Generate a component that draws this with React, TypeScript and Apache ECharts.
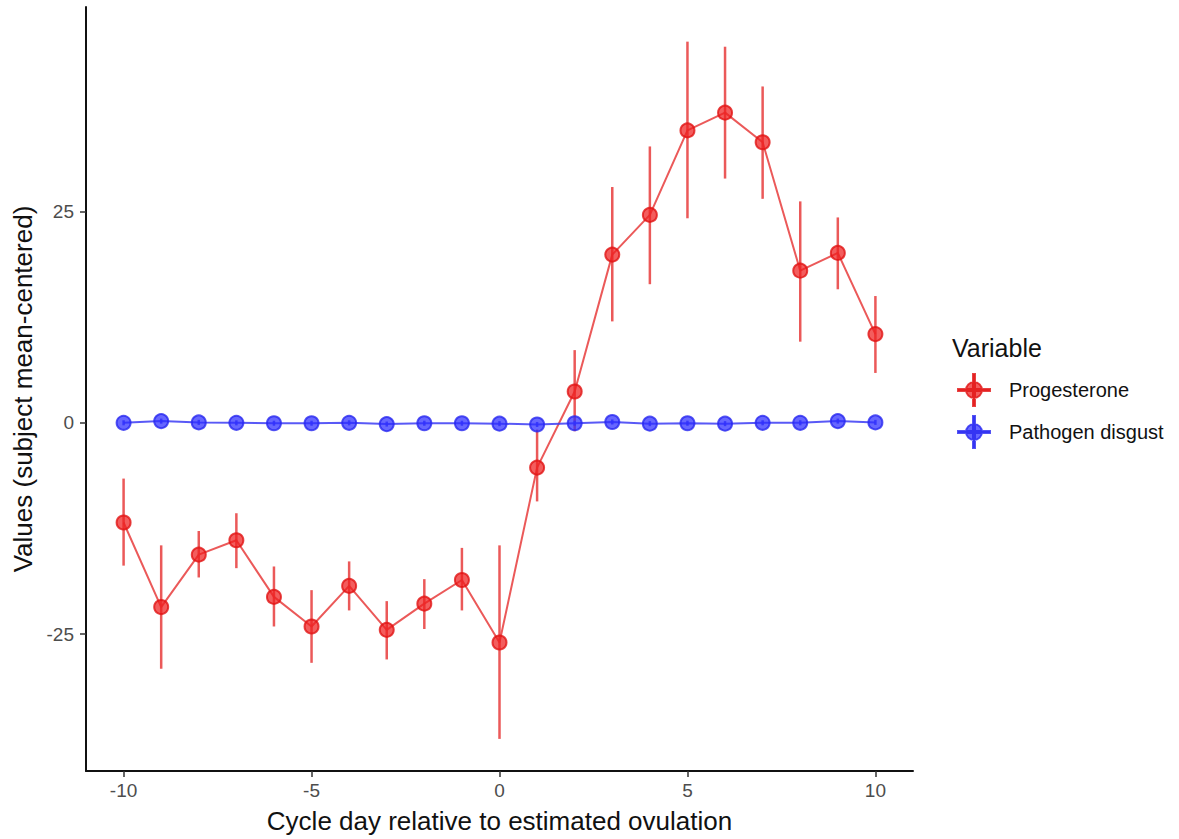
import React, { useEffect, useRef } from "react";
import * as echarts from "echarts";

const days = [-10, -9, -8, -7, -6, -5, -4, -3, -2, -1, 0, 1, 2, 3, 4, 5, 6, 7, 8, 9, 10];
const progesterone = [-11.8, -21.8, -15.6, -13.9, -20.6, -24.1, -19.3, -24.5, -21.4, -18.6, -26.0, -5.3, 3.7, 19.9, 24.6, 34.6, 36.7, 33.2, 18.0, 20.1, 10.5];
const progLow = [-16.9, -29.1, -18.3, -17.2, -24.1, -28.4, -22.2, -28.0, -24.4, -22.2, -37.4, -9.3, -1.0, 12.0, 16.4, 24.2, 28.9, 26.5, 9.6, 15.8, 5.9];
const progHigh = [-6.6, -14.5, -12.8, -10.7, -17.0, -19.8, -16.4, -21.1, -18.5, -14.8, -14.5, -0.8, 8.6, 27.9, 32.7, 45.1, 44.5, 39.8, 26.2, 24.3, 15.0];
const disgust = [0.0, 0.2, 0.05, 0.0, -0.05, -0.05, 0.0, -0.15, -0.05, -0.05, -0.1, -0.2, -0.05, 0.1, -0.1, -0.05, -0.1, 0.0, 0.0, 0.2, 0.05];
const disgustLow = [-0.3, -0.1, -0.25, -0.3, -0.35, -0.35, -0.3, -0.45, -0.35, -0.35, -0.4, -0.5, -0.35, -0.2, -0.4, -0.35, -0.4, -0.3, -0.3, -0.1, -0.25];
const disgustHigh = [0.3, 0.5, 0.35, 0.3, 0.25, 0.25, 0.3, 0.15, 0.25, 0.25, 0.2, 0.1, 0.25, 0.4, 0.2, 0.25, 0.2, 0.3, 0.3, 0.5, 0.35];
const xTicks = [-10, -5, 0, 5, 10];
const yTicks = [-25, 0, 25];

const FONT = "'Liberation Sans', Arial, Helvetica, sans-serif";
const RED = "rgba(238, 30, 30, 0.72)";
const RED_LINE = "rgba(232, 60, 60, 0.85)";
const BLUE = "rgba(45, 45, 255, 0.72)";
const BLUE_LINE = "rgba(60, 60, 245, 0.85)";

const legendIcon =
  "path://M0 15 H32 V17 H0 Z M15 0 H17 V32 H15 Z M24 16 A8 8 0 1 1 8 16 A8 8 0 1 1 24 16 Z";

function errorSeries(name: string, lo: number[], hi: number[], color: string) {
  return {
    type: "custom",
    name,
    data: days.map((d, i) => [d, lo[i], hi[i]]),
    encode: { x: 0, y: [1, 2] },
    renderItem: (_params: any, api: any) => {
      const p1 = api.coord([api.value(0), api.value(1)]);
      const p2 = api.coord([api.value(0), api.value(2)]);
      return {
        type: "line",
        shape: { x1: p1[0], y1: p1[1], x2: p2[0], y2: p2[1] },
        style: { stroke: color, lineWidth: 2.5 },
      };
    },
    silent: true,
    z: 2,
  };
}

export default function App() {
  const ref = useRef<HTMLDivElement>(null);
  useEffect(() => {
    if (!ref.current) return;
    const chart = echarts.init(ref.current, null, { renderer: "svg" });
    chart.setOption({
      animation: false,
      backgroundColor: "#ffffff",
      textStyle: { fontFamily: FONT },
      title: {
        text: "Variable",
        left: 947,
        top: 330,
        textStyle: { fontFamily: FONT, fontSize: 25, fontWeight: "normal", color: "#111" },
      },
      legend: {
        orient: "vertical",
        left: 952,
        top: 368,
        itemWidth: 32,
        itemHeight: 32,
        itemGap: 8,
        data: [
          { name: "Progesterone", icon: legendIcon, itemStyle: { color: RED } },
          { name: "Pathogen disgust", icon: legendIcon, itemStyle: { color: BLUE } },
        ],
        textStyle: { fontFamily: FONT, fontSize: 20, color: "#111", padding: [0, 0, 0, 14] },
      },
      grid: { left: 86, right: 266, top: 7, bottom: 67, containLabel: false },
      xAxis: {
        type: "value",
        min: -11,
        max: 11,
        name: "Cycle day relative to estimated ovulation",
        nameLocation: "middle",
        nameGap: 37,
        nameTextStyle: { fontFamily: FONT, fontSize: 26, color: "#111" },
        axisLine: { show: true, onZero: false, lineStyle: { color: "#111", width: 2 } },
        axisTick: { show: true, customValues: xTicks, length: 6, lineStyle: { color: "#333", width: 1.5 } },
        axisLabel: { customValues: xTicks, fontSize: 19, color: "#4d4d4d", margin: 10, fontFamily: FONT },
        splitLine: { show: false },
      },
      yAxis: {
        type: "value",
        min: -41.2,
        max: 49.2,
        name: "Values (subject mean-centered)",
        nameLocation: "middle",
        nameGap: 49,
        nameRotate: 90,
        nameTextStyle: { fontFamily: FONT, fontSize: 26, color: "#111" },
        axisLine: { show: true, onZero: false, lineStyle: { color: "#111", width: 2 } },
        axisTick: { show: true, customValues: yTicks, length: 6, lineStyle: { color: "#333", width: 1.5 } },
        axisLabel: { customValues: yTicks, fontSize: 19, color: "#4d4d4d", margin: 12, fontFamily: FONT },
        splitLine: { show: false },
      },
      series: [
        errorSeries("Progesterone error", progLow, progHigh, RED_LINE),
        {
          type: "line",
          name: "Progesterone",
          data: days.map((d, i) => [d, progesterone[i]]),
          symbol: "circle",
          symbolSize: 14,
          lineStyle: { color: RED_LINE, width: 2 },
          itemStyle: { color: RED, borderColor: "rgba(225, 20, 20, 0.8)", borderWidth: 2 },
          z: 3,
        },
        errorSeries("Pathogen disgust error", disgustLow, disgustHigh, BLUE_LINE),
        {
          type: "line",
          name: "Pathogen disgust",
          data: days.map((d, i) => [d, disgust[i]]),
          symbol: "circle",
          symbolSize: 14,
          lineStyle: { color: BLUE_LINE, width: 2 },
          itemStyle: { color: BLUE, borderColor: "rgba(40, 40, 240, 0.8)", borderWidth: 2 },
          z: 4,
        },
      ],
    });
    return () => chart.dispose();
  }, []);
  return (
    <div
      ref={ref}
      style={{ position: "fixed", left: 0, top: 0, width: 1179, height: 839, background: "#fff" }}
    />
  );
}
